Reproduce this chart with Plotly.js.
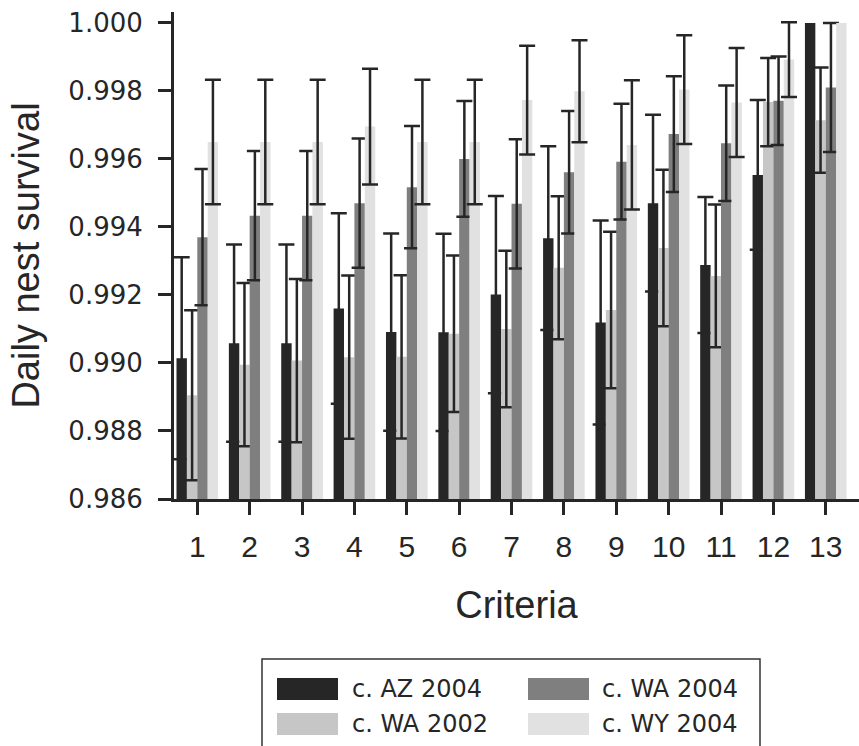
<!DOCTYPE html>
<html>
<head>
<meta charset="utf-8">
<script src="https://cdn.plot.ly/plotly-3.0.1.min.js"></script>
<style>html,body{margin:0;padding:0;background:#fff;}#chart{width:859px;height:746px;}</style>
</head>
<body>
<div id="chart"></div>
<script>
var categories = [1,2,3,4,5,6,7,8,9,10,11,12,13];
var seriesNames = ["c. AZ 2004", "c. WA 2002", "c. WA 2004", "c. WY 2004"];
var seriesColors = ["#262626", "#c6c6c6", "#7f7f7f", "#e1e1e1"];

var az2004 = [0.99014, 0.99058, 0.99058, 0.99160, 0.99091, 0.99090, 0.99201, 0.99367, 0.99119, 0.99470, 0.99288, 0.99553, 1.00000];
var az2004Err = [0.00297, 0.0029, 0.0029, 0.0028, 0.0029, 0.0029, 0.0029, 0.0027, 0.0030, 0.0026, 0.0020, 0.0022, NaN];
var wa2002 = [0.98905, 0.98995, 0.99007, 0.99017, 0.99018, 0.99086, 0.99100, 0.99280, 0.99156, 0.99338, 0.99256, 0.99767, 0.99714];
var wa2002Err = [0.0025, 0.0024, 0.0024, 0.0024, 0.0024, 0.0023, 0.0023, 0.0021, 0.0023, 0.0023, 0.0021, 0.0013, 0.00155];
var wa2004 = [0.99370, 0.99433, 0.99433, 0.99470, 0.99517, 0.99600, 0.99468, 0.99561, 0.99592, 0.99673, 0.99646, 0.99771, 0.99810];
var wa2004Err = [0.0020, 0.0019, 0.0019, 0.0019, 0.0018, 0.0017, 0.0019, 0.0018, 0.0017, 0.0017, 0.0017, 0.0013, 0.0019];
var wy2004 = [0.99650, 0.99650, 0.99650, 0.99695, 0.99650, 0.99650, 0.99773, 0.99799, 0.99641, 0.99804, 0.99766, 0.99892, 1.00000];
var wy2004Err = [0.00183, 0.00183, 0.00183, 0.0017, 0.00183, 0.00183, 0.0016, 0.0015, 0.0019, 0.0016, 0.0016, 0.0011, NaN];

var yTickVals = [0.986, 0.988, 0.990, 0.992, 0.994, 0.996, 0.998, 1.000];
var yTickText = ["0.986", "0.988", "0.990", "0.992", "0.994", "0.996", "0.998", "1.000"];

var values = [az2004, wa2002, wa2004, wy2004];
var errors = [az2004Err, wa2002Err, wa2004Err, wy2004Err];

var ink = "#262626";
var traces = values.map(function (v, i) {
  return {
    type: "bar",
    x: categories,
    y: v,
    name: seriesNames[i],
    marker: { color: seriesColors[i], line: { width: 0 } },
    error_y: { type: "data", array: errors[i], symmetric: true, visible: true,
               color: ink, thickness: 2.5, width: 8 },
    showlegend: false
  };
});

// plot-area geometry (px) used to place the hand-built legend in paper units
var L = 174, T = 12, W = 685, H = 487;
function px(x) { return (x - L) / W; }
function py(y) { return (T + H - y) / H; }

var shapes = [{
  type: "rect", xref: "paper", yref: "paper",
  x0: px(262), x1: px(760), y0: py(659), y1: py(760),
  line: { color: "#333333", width: 1.5 }, fillcolor: "rgba(0,0,0,0)"
}];
var annotations = [];
var swX = [277, 528], swW = 61, rowY = [689, 724], swH = 22, txX = [350, 600];
// order: column-major as in reference (AZ, WA2002 left; WA2004, WY right)
seriesNames.forEach(function (n, i) {
  var col = Math.floor(i / 2), row = i % 2;
  shapes.push({
    type: "rect", xref: "paper", yref: "paper",
    x0: px(swX[col]), x1: px(swX[col] + swW),
    y0: py(rowY[row] + swH / 2), y1: py(rowY[row] - swH / 2),
    line: { width: 0 }, fillcolor: seriesColors[i]
  });
  annotations.push({
    xref: "paper", yref: "paper", x: px(txX[col]), y: py(rowY[row]),
    xanchor: "left", yanchor: "middle", showarrow: false, text: n,
    font: { family: "DejaVu Sans, Verdana, sans-serif", size: 24, color: ink }
  });
});

var layout = {
  width: 859, height: 746,
  margin: { l: L, r: 859 - L - W, t: T, b: 746 - T - H, pad: 0 },
  paper_bgcolor: "#ffffff", plot_bgcolor: "#ffffff",
  barmode: "group", bargap: 0.205, bargroupgap: 0,
  showlegend: false,
  xaxis: {
    range: [0.555, 13.635], tickmode: "array", tickvals: categories,
    ticktext: categories.map(String),
    showgrid: false, zeroline: false,
    showline: true, linecolor: ink, linewidth: 3,
    ticks: "outside", ticklen: 13, tickwidth: 3, tickcolor: ink,
    tickfont: { family: "Liberation Sans, Arial, sans-serif", size: 30, color: ink },
    ticklabelstandoff: 6,
    title: { text: "Criteria", standoff: 30,
             font: { family: "Liberation Sans, Arial, sans-serif", size: 38, color: ink } }
  },
  yaxis: {
    range: [0.986, 1.00032], tickmode: "array", tickvals: yTickVals, ticktext: yTickText,
    showgrid: false, zeroline: false,
    showline: true, linecolor: ink, linewidth: 3,
    ticks: "outside", ticklen: 13, tickwidth: 3, tickcolor: ink,
    tickfont: { family: "DejaVu Sans, Verdana, sans-serif", size: 26, color: ink },
    ticklabelstandoff: 10,
    title: { text: "Daily nest survival", standoff: 18,
             font: { family: "Liberation Sans, Arial, sans-serif", size: 38, color: ink } }
  },
  shapes: shapes,
  annotations: annotations
};

Plotly.newPlot("chart", traces, layout, { displayModeBar: false, staticPlot: true });
</script>
</body>
</html>
